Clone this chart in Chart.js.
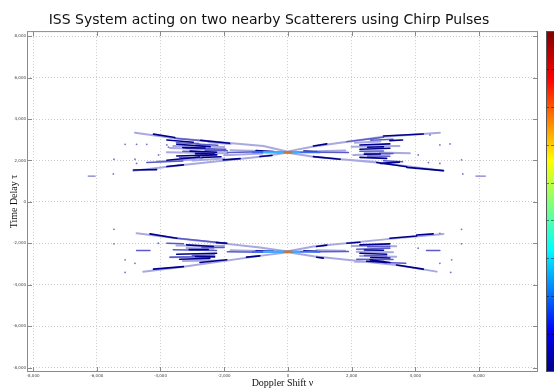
<!DOCTYPE html>
<html>
<head>
<meta charset="utf-8">
<script src="https://cdn.jsdelivr.net/npm/chart.js@4/dist/chart.umd.min.js"></script>
<style>
html, body { margin: 0; padding: 0; background: #fff; }
</style>
</head>
<body>
<canvas id="myChart" width="554" height="390"></canvas>
<script>
// tick values
var xTicks = [-8000, -6000, -4000, -2000, 0, 2000, 4000, 6000];
var yTicks = [-8000, -6000, -4000, -2000, 0, 2000, 4000, 6000, 8000];

// contour streaks [x1, y1, x2, y2], grouped by level
var lightSegs = [
    // upper group, left
    [-4800, 3340, -3550, 3070], [-3550, 3070, -770, 2700], [-770, 2700, 0, 2420],
    [-4850, 1510, -3300, 1780], [-3300, 1780, -880, 2185], [-880, 2185, 0, 2380],
    [-3800, 2400, -1900, 2350], [-2000, 2250, -800, 2340], [-4100, 1950, -2900, 2050],
    [-3700, 2600, -2300, 2540], [-3600, 2700, -2000, 2650], [-3000, 2000, -2000, 2100],
    [-2500, 2880, -1800, 2800], [-1800, 2500, -900, 2460],
    // upper group, right
    [4770, 3340, 2990, 3150], [2990, 3150, 800, 2670], [800, 2670, 0, 2440],
    [4880, 1510, 2790, 1900], [2790, 1900, 800, 2185], [800, 2185, 0, 2370],
    [2050, 2270, 3200, 2310], [2890, 2380, 3830, 2350], [1640, 2060, 2790, 1930],
    [2000, 2660, 3500, 2700], [2100, 2860, 2900, 2920], [1800, 2480, 900, 2450],
    // lower group, left
    [-4750, -1510, -3490, -1750], [-3490, -1750, -880, -2200], [-880, -2200, 0, -2390],
    [-4540, -3360, -3280, -3120], [-3280, -3120, -880, -2600], [-880, -2600, 0, -2420],
    [-3180, -2220, -2340, -2260], [-3700, -2670, -2440, -2630], [-3500, -2100, -2000, -2120],
    [-3300, -2850, -2100, -2820], [-1800, -2330, -900, -2360],
    // lower group, right
    [4880, -1540, 3200, -1780], [3200, -1780, 800, -2150], [800, -2150, 0, -2380],
    [4670, -3360, 3410, -3040], [3410, -3040, 800, -2620], [800, -2620, 0, -2420],
    [2160, -2400, 3300, -2420], [2260, -2600, 3400, -2640], [2000, -2120, 3400, -2140],
    [2100, -2880, 3000, -2860], [900, -2330, 1800, -2350]
];
var midSegs = [
    [-3550, 3070, -2770, 2960], [-3200, 2590, -1950, 2540], [-4430, 1900, -3300, 1970],
    [-1900, 2380, -800, 2420], [-2900, 2800, -2200, 2740], [-3300, 2450, -2600, 2420],
    [-3500, 2860, -2800, 2820], [-2600, 2480, -1900, 2470], [-3400, 2140, -2700, 2120],
    [1850, 2910, 3000, 3120], [2600, 2980, 3300, 3030], [2260, 2440, 3000, 2460],
    [800, 2400, 1900, 2390], [3000, 1990, 3600, 1940], [2400, 2350, 3300, 2340],
    [2500, 2220, 3200, 2200],
    [-3490, -1750, -1920, -1990], [-3600, -2310, -2240, -2345], [-3700, -2670, -2450, -2630],
    [-3800, -1990, -3280, -2020], [-4750, -2345, -4330, -2345], [-1900, -2400, -800, -2420],
    [-3000, -2580, -2300, -2560], [-2700, -2200, -2000, -2190],
    [2160, -2280, 3200, -2230], [2160, -2760, 3300, -2780], [4350, -2345, 4770, -2345],
    [800, -2400, 1900, -2390], [3000, -2920, 3700, -2960], [2400, -2580, 3100, -2600],
    [2500, -2160, 3200, -2150]
];
var navySegs = [
    // upper group
    [-4220, 3270, -3550, 3110], [-2740, 2970, -1830, 2830], [-4850, 1545, -4120, 1560],
    [-3800, 1710, -3280, 1790], [-2030, 2030, -1500, 2090], [-880, 2190, -500, 2240],
    [-3490, 2780, -2440, 2670], [-3800, 2010, -2760, 2170], [-3490, 2220, -2230, 2270],
    [-3070, 2450, -2240, 2400], [-3800, 2990, -2970, 2880], [-1000, 2480, -450, 2430],
    [-3300, 2620, -2600, 2600], [-2900, 2330, -2300, 2310], [-2700, 2150, -2100, 2180],
    [3000, 3180, 4250, 3280], [800, 2700, 1220, 2800], [3730, 1670, 4880, 1510],
    [2790, 1900, 3730, 1700], [800, 2185, 1640, 2060], [2260, 2750, 3200, 2800],
    [2260, 2540, 3200, 2590], [2260, 2150, 3100, 2100], [2900, 1860, 3500, 1920],
    [3200, 2960, 3600, 2990], [500, 2460, 900, 2430], [2500, 2640, 3000, 2660],
    [2400, 2300, 2900, 2310],
    // lower group
    [-4330, -1540, -3490, -1750], [-2250, -1960, -1920, -1990], [-4220, -3240, -3280, -3120],
    [-2760, -2920, -1920, -2790], [-1300, -2660, -880, -2600], [-3180, -2070, -2340, -2150],
    [-3490, -2520, -2240, -2470], [-3400, -2760, -2450, -2720], [-1000, -2360, -450, -2380],
    [-3100, -2300, -2500, -2290], [-2900, -2630, -2300, -2650],
    [4040, -1590, 4560, -1540], [3200, -1750, 4040, -1640], [1850, -1990, 2260, -1940],
    [900, -2150, 1220, -2080], [3410, -3040, 4250, -3240], [2580, -2790, 3200, -2920],
    [900, -2670, 1110, -2710], [2260, -2070, 3200, -2020], [2260, -2470, 3100, -2520],
    [2470, -2860, 3100, -2920], [500, -2360, 900, -2380], [2400, -2320, 3000, -2330],
    [2600, -2680, 3200, -2700]
];
var cyanSegs = [[-750, 2400, 350, 2400], [-750, -2400, 350, -2400]];
var blueSegs = [[-1100, 2400, 1000, 2400], [-1100, -2400, 1000, -2400]];
var coreSegs = [[-100, 2400, 110, 2400], [-100, -2400, 110, -2400]];
var specks = [
    {x: -5110, y: 2780}, {x: -4750, y: 2780}, {x: -4430, y: 2780}, {x: -5460, y: 2060},
    {x: -5480, y: 1350}, {x: -3800, y: 2750}, {x: -3750, y: 2640}, {x: -4060, y: 2270},
    {x: -4750, y: 1860}, {x: -4800, y: 2060}, {x: 4460, y: 3230}, {x: 4770, y: 2750},
    {x: 5090, y: 2800}, {x: 5450, y: 2030}, {x: 5490, y: 1350}, {x: 4410, y: 1900},
    {x: 4770, y: 1860}, {x: 4090, y: 2270}, {x: -5460, y: -1320}, {x: -5460, y: -2020},
    {x: -5110, y: -2790}, {x: -5110, y: -3400}, {x: -4800, y: -2960}, {x: -4070, y: -1990},
    {x: 5450, y: -1320}, {x: 4770, y: -1510}, {x: 5450, y: -2020}, {x: 5140, y: -2790},
    {x: 5110, y: -3400}, {x: 4770, y: -2960}, {x: 4090, y: -2230}
];
var dashSegs = [[-6270, 1250, -6050, 1250], [5900, 1250, 6200, 1250]];

// colour bar stops (jet)
var jetStops = [[0, '#00007f'], [0.12, '#0000ff'], [0.36, '#00ffff'], [0.62, '#ffff00'], [0.86, '#ff0000'], [1, '#7f0000']];
var barLevels = 9;

function segData(segs) {
    var out = [];
    segs.forEach(function (s) {
        out.push({x: s[0], y: s[1]}, {x: s[2], y: s[3]}, {x: s[2], y: null});
    });
    return out;
}

function lineSet(segs, color, width) {
    return {
        data: segData(segs),
        showLine: true,
        borderColor: color,
        backgroundColor: color,
        borderWidth: width,
        borderCapStyle: 'round',
        pointRadius: 0,
        spanGaps: false
    };
}

var framePlugin = {
    id: 'frame',
    afterDatasetsDraw: function (chart) {
        var c = chart.ctx, a = chart.chartArea;
        var sx = chart.scales.x, sy = chart.scales.y;
        c.save();
        c.strokeStyle = '#8a8a8a';
        c.lineWidth = 1;
        c.strokeRect(a.left + 0.5, a.top + 0.5, a.right - a.left - 1, a.bottom - a.top - 1);
        c.beginPath();
        xTicks.forEach(function (v) {
            var px = Math.round(sx.getPixelForValue(v)) + 0.5;
            c.moveTo(px, a.bottom); c.lineTo(px, a.bottom - 5);
            c.moveTo(px, a.top); c.lineTo(px, a.top + 5);
        });
        yTicks.forEach(function (v) {
            var py = Math.round(sy.getPixelForValue(v)) + 0.5;
            c.moveTo(a.left, py); c.lineTo(a.left + 5, py);
            c.moveTo(a.right, py); c.lineTo(a.right - 5, py);
        });
        c.stroke();
        c.restore();
    },
    afterDraw: function (chart) {
        // colour bar
        var c = chart.ctx, a = chart.chartArea;
        var x0 = a.right + 8, w = chart.width - x0;
        var g = c.createLinearGradient(0, a.bottom, 0, a.top);
        jetStops.forEach(function (s) { g.addColorStop(s[0], s[1]); });
        c.save();
        c.fillStyle = g;
        c.fillRect(x0, a.top, w, a.bottom - a.top);
        c.strokeStyle = 'rgba(0,0,0,0.45)';
        c.setLineDash([3, 2]);
        c.beginPath();
        for (var i = 1; i < barLevels; i++) {
            var py = Math.round(a.bottom - (a.bottom - a.top) * i / barLevels) + 0.5;
            c.moveTo(x0, py); c.lineTo(x0 + w, py);
        }
        c.stroke();
        c.setLineDash([]);
        c.strokeStyle = '#555';
        c.strokeRect(x0 + 0.5, a.top + 0.5, w, a.bottom - a.top - 1);
        c.restore();
    }
};

var tickFont = {family: 'DejaVu Sans', size: 4};
var labelFont = {family: 'Liberation Serif', size: 10, lineHeight: 1.2};

var ctx = document.getElementById('myChart').getContext('2d');

var chart = new Chart(ctx, {
    type: 'scatter',
    data: {
        datasets: [
            lineSet(coreSegs, '#c8783c', 2.5),
            lineSet(cyanSegs, '#33b5ff', 2),
            lineSet(blueSegs, '#3b6cf0', 2),
            lineSet(navySegs, '#00008c', 1.6),
            lineSet(midSegs, '#5a5ac8', 1.5),
            lineSet(dashSegs, '#7c7cd0', 1.2),
            {data: specks, showLine: false, pointRadius: 0.9, pointBorderWidth: 0, backgroundColor: '#7373cc'},
            lineSet(lightSegs, '#a9a9e2', 2)
        ]
    },
    options: {
        responsive: false,
        animation: false,
        layout: {padding: {left: 0, right: 16, top: 0, bottom: 0}},
        plugins: {
            legend: {display: false},
            tooltip: {enabled: false},
            title: {
                display: true,
                text: 'ISS System acting on two nearby Scatterers using Chirp Pulses',
                color: '#111',
                font: {family: 'DejaVu Sans', size: 14, weight: 'normal', lineHeight: 1.15},
                padding: {top: 12, bottom: 3}
            }
        },
        scales: {
            x: {
                type: 'linear',
                min: -8190,
                max: 7850,
                afterBuildTicks: function (s) { s.ticks = xTicks.map(function (v) { return {value: v}; }); },
                afterFit: function (s) { s.height = 18; },
                grid: {color: '#cccccc', drawTicks: false},
                border: {display: false, dash: [1, 2]},
                ticks: {font: tickFont, color: '#444', padding: 2, maxRotation: 0, autoSkip: false},
                title: {display: true, text: 'Doppler Shift ν', font: labelFont, color: '#111', padding: {top: 0, bottom: 1}}
            },
            y: {
                type: 'linear',
                min: -8200,
                max: 8240,
                afterBuildTicks: function (s) { s.ticks = yTicks.map(function (v) { return {value: v}; }); },
                afterFit: function (s) { s.width = 27; },
                grid: {color: '#cccccc', drawTicks: false},
                border: {display: false, dash: [1, 2]},
                ticks: {font: tickFont, color: '#444', padding: 1, autoSkip: false},
                title: {display: true, text: 'Time Delay τ', font: labelFont, color: '#111', padding: {top: 8, bottom: 0}}
            }
        }
    },
    plugins: [framePlugin]
});
</script>
</body>
</html>
